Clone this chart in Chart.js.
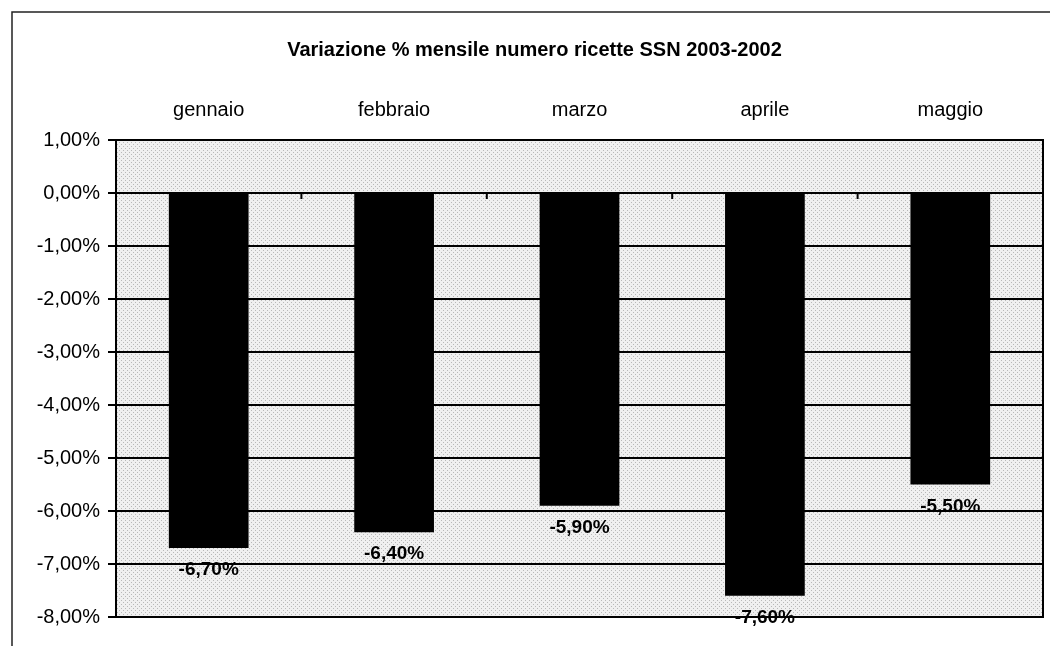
<!DOCTYPE html>
<html>
<head>
<meta charset="utf-8">
<script src="https://cdn.jsdelivr.net/npm/chart.js@4"></script>
<style>
  html, body { margin: 0; padding: 0; background: #fff; }
  #wrap { width: 1050px; height: 646px; position: relative; }
</style>
</head>
<body>
<div id="wrap"><canvas id="ricetteChart" width="1050" height="646"></canvas></div>
<script>
// data
var mesi = ["gennaio", "febbraio", "marzo", "aprile", "maggio"];
var variazione = [-6.7, -6.4, -5.9, -7.6, -5.5];
var titolo = "Variazione % mensile numero ricette SSN 2003-2002";

var FONT = "'Liberation Sans', Arial, sans-serif";

function percento(v) {
  return v.toFixed(2).replace(".", ",") + "%";
}

// light stippled grey like the scanned plot area
function sfondo(ctx) {
  var c = document.createElement("canvas");
  c.width = 4; c.height = 4;
  var p = c.getContext("2d");
  p.fillStyle = "#f0f0f0";
  p.fillRect(0, 0, 4, 4);
  p.fillStyle = "#b8b8b8";
  p.fillRect(1, 0, 1, 1);
  p.fillRect(3, 2, 1, 1);
  return ctx.createPattern(c, "repeat");
}

var cornice = {
  id: "cornice",
  beforeDraw: function (chart) {
    var ctx = chart.ctx, a = chart.chartArea;
    ctx.save();
    // outer frame (only top and left are visible in the scan)
    ctx.strokeStyle = "#222";
    ctx.lineWidth = 1.5;
    ctx.beginPath();
    ctx.moveTo(12, 646);
    ctx.lineTo(12, 12);
    ctx.lineTo(1050, 12);
    ctx.stroke();
    ctx.fillStyle = sfondo(ctx);
    ctx.fillRect(a.left, a.top, a.right - a.left, a.bottom - a.top);
    ctx.restore();
  },
  afterDatasetsDraw: function (chart) {
    var ctx = chart.ctx, a = chart.chartArea;
    var xs = chart.scales.x, ys = chart.scales.y;
    ctx.save();
    ctx.strokeStyle = "#000";
    ctx.lineWidth = 2;
    ctx.strokeRect(a.left, a.top, a.right - a.left, a.bottom - a.top);
    // small tick marks on the zero line between categories
    var y0 = ys.getPixelForValue(0);
    var passo = (a.right - a.left) / mesi.length;
    ctx.beginPath();
    for (var i = 1; i < mesi.length; i++) {
      var x = xs.getPixelForValue(i) - passo / 2;
      ctx.moveTo(x, y0);
      ctx.lineTo(x, y0 + 6);
    }
    ctx.stroke();
    // value labels under each bar
    ctx.font = "bold 19px " + FONT;
    ctx.textAlign = "center";
    ctx.textBaseline = "middle";
    ctx.fillStyle = "#000";
    variazione.forEach(function (v, i) {
      ctx.fillText(percento(v), xs.getPixelForValue(i), ys.getPixelForValue(v) + 22);
    });
    ctx.restore();
  }
};

var ctx = document.getElementById("ricetteChart");
var ricetteChart = new Chart(ctx, {
  type: "bar",
  data: {
    labels: mesi,
    datasets: [{
      data: variazione,
      backgroundColor: "#000",
      borderWidth: 0,
      barPercentage: 0.43,
      categoryPercentage: 1
    }]
  },
  options: {
    responsive: false,
    animation: false,
    layout: { padding: { left: 26, right: 7, top: 0, bottom: 29 } },
    plugins: {
      legend: { display: false },
      tooltip: { enabled: false },
      title: {
        display: true,
        text: titolo,
        color: "#000",
        font: { family: FONT, size: 20, weight: "bold" },
        padding: { top: 38, bottom: 0 }
      }
    },
    scales: {
      x: {
        position: "top",
        grid: { display: false, drawTicks: false },
        border: { display: false },
        ticks: {
          color: "#000",
          padding: 18,
          font: { family: FONT, size: 20 }
        },
        afterFit: function (s) { s.height = 78; }
      },
      y: {
        min: -8,
        max: 1,
        ticks: {
          stepSize: 1,
          color: "#000",
          padding: 8,
          font: { family: FONT, size: 20 },
          callback: function (v) { return percento(v); }
        },
        grid: { color: "#000", lineWidth: 2, tickLength: 8, tickColor: "#000" },
        border: { color: "#000", width: 2 },
        afterFit: function (s) { s.width = 90; }
      }
    }
  },
  plugins: [cornice]
});
</script>
</body>
</html>
